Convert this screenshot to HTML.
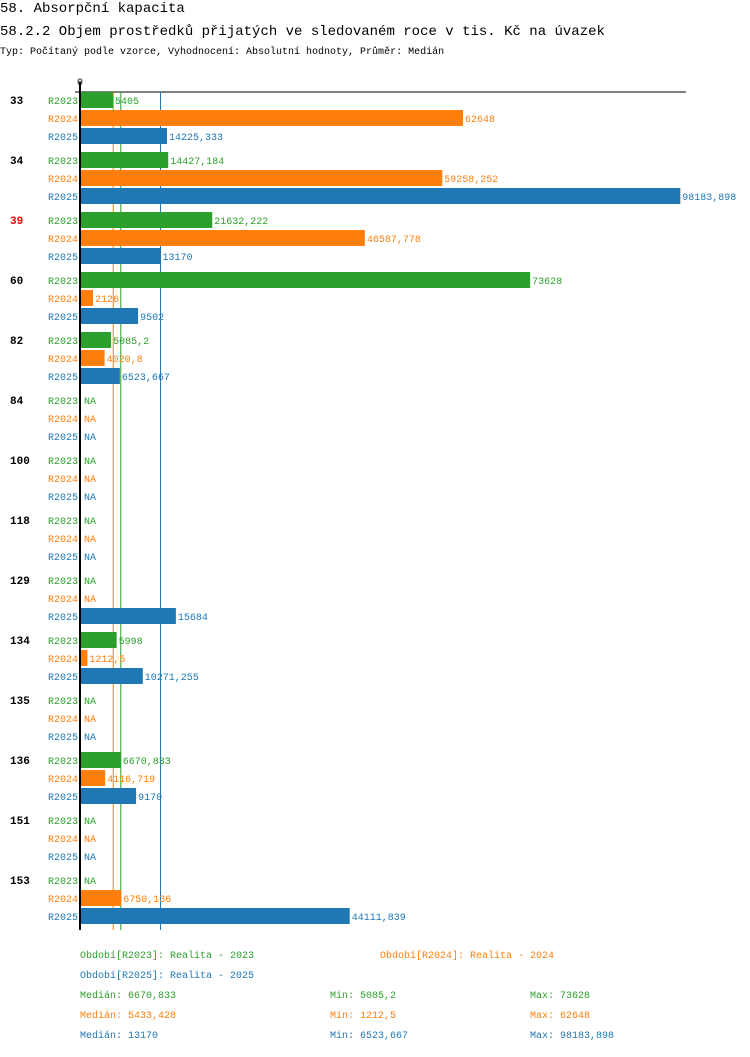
<!DOCTYPE html>
<html><head><meta charset="utf-8"><style>
body{margin:0;background:#fff;width:750px;height:1052px;overflow:hidden;font-family:"Liberation Mono","DejaVu Sans Mono",monospace}
svg text{font-family:"Liberation Mono","DejaVu Sans Mono",monospace}
</style></head><body>
<svg id="c" width="750" height="1052">
<text x="0" y="12" font-size="14">58. Absorpční kapacita</text>
<text x="0" y="35" font-size="14">58.2.2 Objem prostředků přijatých ve sledovaném roce v tis. Kč na úvazek</text>
<text x="0" y="54" font-size="10">Typ: Počítaný podle vzorce, Vyhodnocení: Absolutní hodnoty, Průměr: Medián</text>
<g id="g"></g>
</svg>
<script>
const categories=["33","34","39","60","82","84","100","118","129","134","135","136","151","153"];
const series=["R2023","R2024","R2025"];
const v2023=[5405,14427.184,21632.222,73628,5085.2,null,null,null,null,5998,null,6670.833,null,null];
const v2024=[62648,59258.252,46587.778,2126,4020.8,null,null,null,null,1212.5,null,4116.719,null,6750.136];
const v2025=[14225.333,98183.898,13170,9502,6523.667,null,null,null,15684,10271.255,null,9170,null,44111.839];
const medians=[6670.833,5433.428,13170];
const mins=["5085,2","1212,5","6523,667"];
const maxs=["73628","62648","98183,898"];
const highlight="39";
const colors=["#2ca02c","#ff7f0e","#1f77b4"];
const X0=80,K=0.006114,TOP=92,GH=60,RH=18;
const x=v=>X0+v*K;
const fmt=v=>String(Math.round(v*1000)/1000).replace('.',',');
const g=document.getElementById('g');
const NS="http://www.w3.org/2000/svg";
function mk(t,a,txt){const e=document.createElementNS(NS,t);for(const k in a)e.setAttribute(k,a[k]);if(txt!=null)e.textContent=txt;g.appendChild(e);return e;}
const vals=[v2023,v2024,v2025];
const bottom=930;
let e=mk('line',{x1:75,y1:TOP,x2:686,y2:TOP,stroke:'#000','stroke-width':1});


e=mk('text',{x:77,y:85,'font-size':10},'0');


[1,0,2].forEach(j=>{
  e=mk('line',{x1:x(medians[j]),y1:TOP,x2:x(medians[j]),y2:bottom,stroke:colors[j],'stroke-width':1});
  
  
});
categories.forEach((c,i)=>{
  const gy=TOP+i*GH;
  e=mk('text',{x:10,y:gy+12,'font-size':11,'font-weight':'bold',fill:c===highlight?'#e00':'#000'},c);
  
  
  series.forEach((s,j)=>{
    const y=gy+j*RH;
    e=mk('text',{x:78,y:y+12,'font-size':10,fill:colors[j],'text-anchor':'end'},s);
    
    
    const v=vals[j][i];
    if(v==null){
      e=mk('text',{x:84,y:y+12,'font-size':10,fill:colors[j]},'NA');
      
      
    }else{
      e=mk('rect',{x:X0,y:y,width:x(v)-X0,height:16,fill:colors[j]});
      
      
      e=mk('text',{x:x(v)+2,y:y+12,'font-size':10,fill:colors[j]},fmt(v));
      
      
    }
  });
});
e=mk('line',{x1:X0,y1:TOP-10,x2:X0,y2:bottom,stroke:'#000','stroke-width':2});


const leg=[[80,958,"Období[R2023]: Realita - 2023",0],[380,958,"Období[R2024]: Realita - 2024",1],[80,978,"Období[R2025]: Realita - 2025",2]];
leg.forEach(l=>{e=mk('text',{x:l[0],y:l[1],'font-size':10,fill:colors[l[3]]},l[2]);

});
series.forEach((s,j)=>{
  const y=998+j*20;
  e=mk('text',{x:80,y:y,'font-size':10,fill:colors[j]},'Medián: '+fmt(medians[j]));
  
  
  e=mk('text',{x:330,y:y,'font-size':10,fill:colors[j]},'Min: '+mins[j]);
  
  
  e=mk('text',{x:530,y:y,'font-size':10,fill:colors[j]},'Max: '+maxs[j]);
  
  
});
</script>
</body></html>
